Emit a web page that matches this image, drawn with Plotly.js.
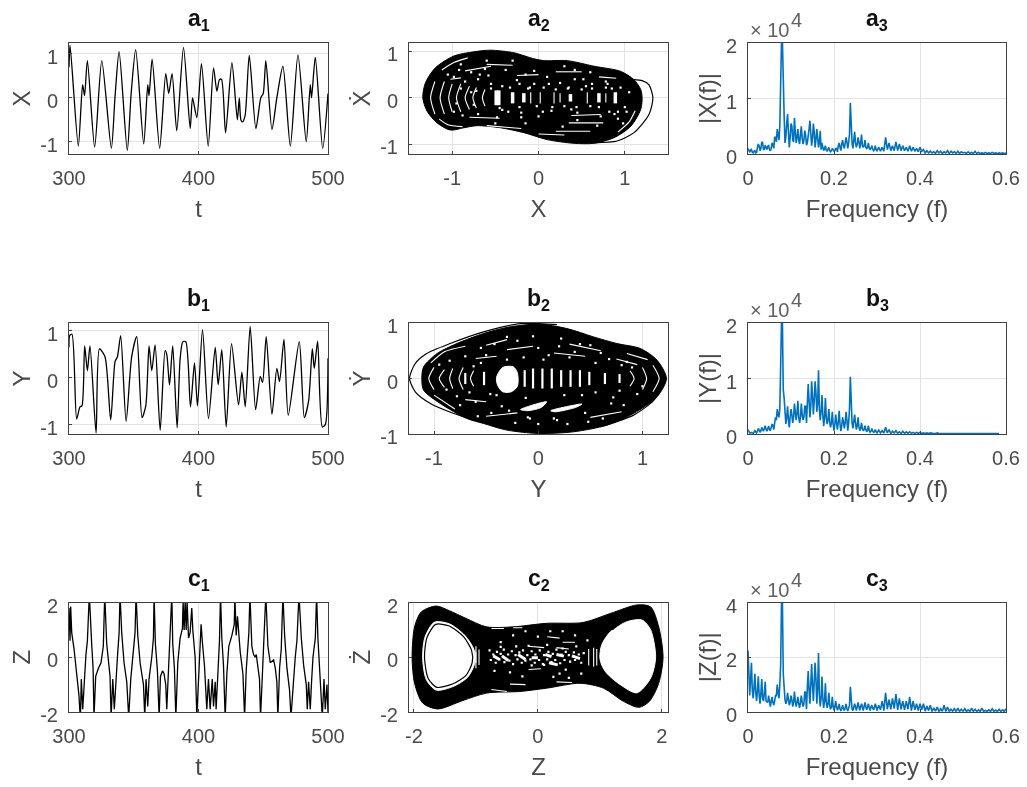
<!DOCTYPE html>
<html><head><meta charset="utf-8">
<script src="https://cdn.plot.ly/plotly-3.0.1.min.js"></script>
<style>html,body{margin:0;padding:0;background:#fff}#c{width:1027px;height:787px;filter:blur(.35px)}</style>
</head><body><div id="c"></div>
<script>
// ---------- time series ----------
const tX=[300,300.8,307.2,310.5,312,314.2,319.8,325.3,332.7,335.6,338.7,345,348,351.5,357.7,360.8,361.8,364.2,370,374.7,377,379.6,383.2,388.4,393.6,395.4,398.7,402.3,407.5,411.6,414.2,416.2,417.8,420.9,425.8,430,431.5,432.7,434,436,439.2,444.3,448.1,450,452,456.7,460.6,465.2,470.9,476.8,483.2,486.3,487.3,490.2,495.9,500];
const vX=[.7,1.2,-1.1,.3,.05,.85,-1.12,.85,-1.15,.05,1.05,-1.2,.1,1.1,-1.05,.3,.05,.88,-1.15,.55,.1,.55,-.75,1.15,-.7,0,-.45,.78,-1.1,.68,.15,.42,.42,-.8,.8,-.5,0,-.5,-.55,-.4,.97,-.7,0,.1,.85,-.72,.02,.72,-1.1,.98,-1,.3,0,.92,-1.15,.1];
const tY=[300,300.5,302.3,305.9,308.5,310,312.1,314.2,316.2,320.9,323.5,327.8,332.2,335.6,337.4,339.9,344.1,348.4,352.3,356.4,359.3,361.8,363.9,366.5,370.4,374.2,375.5,377.6,380.1,383.5,385.8,387.9,390.2,393.8,396.9,399.2,403.1,407.7,412.9,415.2,418,421.4,425.5,430.9,433.5,436.1,439.9,444.1,447.7,449.5,452.3,456.7,460.5,462.6,466,469.3,477.8,481.7,485,487.9,489.4,492,495.6,497.9,500];
const vY=[.65,.9,.93,-.88,-.62,-.6,.68,.15,.68,-1.18,.62,.45,-.9,.35,.45,.9,-.93,.45,.88,-.85,-.6,.68,.15,.7,-1.12,.58,.5,-.15,.68,-1.07,.4,.77,.77,-.62,.32,-.6,1.03,-.87,.65,-.15,.6,-1.05,.73,-.58,.12,-.62,1.1,-.68,.03,-.1,.88,-.78,.2,-.08,.82,-.8,.77,-.85,-.5,.62,.2,.78,-1.05,-1,.42];
const tZ=[300,300.8,301.3,302.1,303.9,306.4,307.7,308.8,309.5,310.6,311.6,313.1,314.2,315.7,317.5,318.6,319.3,320.6,322.7,324.7,326.5,327.6,329.1,331.7,332.5,333.8,335,336.1,337.4,338.7,339.4,340.7,342.5,344.6,345.4,346.1,347.7,349.7,351,351.8,353.1,354.9,357.5,358.5,359.5,360.8,361.8,363.9,365.2,365.7,366.7,368.3,369.6,370.6,372.2,373.4,374.7,375.5,376.3,378.1,379.4,380.1,381.4,382.5,384,385.8,387.6,388.1,388.9,389.7,390.5,391.2,392.3,393.5,394.8,395.6,397.4,398.7,400,401.3,402,403.1,404.6,406.4,407.7,409,410.6,411.6,412.9,413.6,414.9,416.2,417,418,419.3,420.6,421.9,423.4,425.8,427.6,428.1,429.1,430.1,431.2,432.2,434.3,435.6,436.8,438.1,438.9,439.7,441.2,442.5,443.8,444.6,445.6,447.1,447.9,449.2,450.8,452,453.6,455.4,458,459.3,460.5,461.3,462.6,463.9,465.2,466.5,468.3,470.3,471.4,472.9,474.7,476,477.6,479.4,481.2,483.2,484,485,486.3,487.3,488.4,490.2,491.2,492.2,493.5,494.8,495.6,496.9,497.9,499.2,500];
const vZ=[1.8,.6,1.85,.9,.3,-.7,-1.4,-2.3,-.8,-1.9,-1,.1,.6,2.3,.5,-.4,-2.2,-.7,-.4,-.2,.4,2.3,.5,-.7,-2.2,-.8,-1.9,-.8,0,.9,2.3,.9,-.2,-.9,-1.8,-2.2,-.8,.3,.9,2.3,.8,-.2,-1,-2.2,-.8,-1.8,-.8,0,.7,2.3,.5,-.5,-2.2,-.7,-.5,-.6,-1,-1.9,-1,.6,2.3,.5,-.4,-2.2,-.2,.7,1.05,2.05,1,2.05,1,2.05,.7,.9,1.8,1,0,-2.2,-.6,.6,1.2,.5,-.3,-1.9,-.8,-1.9,-.8,-1.8,-.9,-1.9,-.5,.6,2.3,.7,-.3,-2.2,-.6,.4,.8,1.2,2.2,.8,1.5,.8,.2,-.6,-2.2,-.5,.3,.9,2.3,.4,.1,0,.1,-.2,-.8,-2.2,-.6,.8,2.3,.4,-.2,-.1,-.4,-.9,-2.2,-.4,.3,2.3,.8,-.4,-1.2,-2.2,-1,0,.6,2.3,.7,-.3,-1,-1.9,-.9,-1.9,-.9,0,.7,2.3,.7,-.4,-1.3,-2.2,-.8,-1.9,-1,-2];

// ---------- phase portraits: envelope, outlying orbits, light gaps ----------
const a2BlobX=[-1.34,-1.31,-1.195,-.98,-.75,-.557,-.286,-.054,.062,.333,.644,.95,1.106,1.184,1.2,1.184,1.07,.874,.64,.41,.1,-.17,-.44,-.71,-.865,-1.02,-1.175,-1.29,-1.34];
const a2BlobY=[0,.32,.645,.9,.99,1.025,.97,.84,.8,.8,.68,.57,.39,.18,0,-.25,-.61,-.86,-.98,-.98,-.9,-.75,-.645,-.6,-.645,-.695,-.54,-.29,0];
const a2OrbitX=[1.106,1.2,1.28,1.325,1.28,1.106,.91,.64];
const a2OrbitY=[.39,.37,.28,0,-.36,-.75,-.93,-.97];
const a2WideX=[-.49,-.49,null,-.46,-.46,null,-.3,-.3,null,-.17,-.17,null,.7,.7,null,.37,.37,null,.89,.89];
const a2WideY=[-.16,.16,null,-.16,.16,null,-.12,.12,null,-.1,.1,null,-.1,.1,null,-.08,.08,null,-.12,.12];
const a2GapX=[-1.12,-.98,-.82,null,-1.2,-1.25,-1.2,null,-1.09,-1.14,-1.09,null,-1.0,-1.04,-1.0,null,-.9,-.95,-.9,null,-.8,-.85,-.8,null,-.72,-.76,-.72,null,-.62,-.65,-.62,null,-1.15,-1.05,-.88,null,-.09,-.09,null,.02,.02,null,.18,.18,null,.565,.565,null,.25,.25,null,.78,.78,null,1.12,1.05,.92,null,.75,.35,null,.6,.2,null,-.6,-.3,null,-.8,-.45,null,-.25,.0,null,.2,.5,null,.7,.9,null,-.6,-.2,null,.0,.3,null,-1.02,-.9,null,-.85,-.55,null,.38,.72];
const a2GapY=[.6,.76,.86,null,.35,0,-.35,null,.35,0,-.35,null,.3,0,-.3,null,.3,0,-.3,null,.25,0,-.25,null,.22,0,-.22,null,.18,0,-.18,null,-.46,-.58,-.62,null,.12,-.12,null,.12,-.12,null,.12,-.12,null,.12,-.12,null,.1,-.1,null,.1,-.1,null,-.28,-.52,-.74,null,-.54,-.54,null,-.72,-.72,null,.72,.7,null,-.42,-.44,null,.48,.5,null,.56,.56,null,.45,.42,null,-.6,-.66,null,-.78,-.8,null,.4,.43,null,.58,.68,null,-.38,-.36];
const a2SpeckX=[-1.05,-.92,-.85,-.78,-.7,-.62,-.55,-.38,-.22,-.05,.1,.25,.42,.6,.78,.95,-.98,-.88,-.7,-.5,-.35,-.15,.05,.28,.45,.68,.82,1,-.9,-.6,-.3,-.05,.3,.52,.78,-.75,-.45,-.2,.15,.38,.72,.92,-.72,-.55,-.1,.35,.55,.85,1.05,-.42,-.25,-.12,.06,.2,.34,.5,.62,.8,.92,-.42,-.22,-.02,.16,.3,.44,.6,.88,1.02,-.58,-.33,-.15,.12,.42,.62,-.68,-.48,-.2,.0,.45,.7,.98,-.98,-.9,-.78,-.95];
const a2SpeckY=[.5,.6,.35,.55,.4,.62,.3,.6,.3,.3,.45,.32,.6,.55,.35,.22,-.3,-.38,-.35,-.55,-.3,-.55,-.3,-.62,-.32,-.6,-.3,-.2,.72,.8,.8,.58,.68,.4,.22,-.15,-.22,-.32,-.28,-.25,-.4,-.45,.15,.2,.22,.22,.25,.2,.12,.25,.38,.2,.22,.18,.2,.18,.2,.3,-.3,-.26,-.2,-.18,-.2,-.18,-.2,-.18,-.35,-.3,.48,.22,.5,.3,.4,.3,.5,-.42,-.42,-.4,-.48,-.2,-.55,.45,.2,.12,-.12,-.42];

const b2BlobX=[-1.117,-1.1,-.97,-.78,-.525,-.3,0,.275,.53,.755,.98,1.14,1.23,1.14,.915,.66,.34,0,-.3,-.525,-.685,-.94,-1.1,-1.117];
const b2BlobY=[0,.21,.45,.63,.81,.92,.98,.9,.75,.63,.54,.33,0,-.33,-.63,-.84,-.96,-.99,-.93,-.81,-.72,-.45,-.21,0];
const b2OrbitX=[.18,-.17,-.525,-.845,-1.07,-1.18,-1.235,-1.18,-1.035,-.81,-.56,null,1.23,1.11,.915,.595];
const b2OrbitY=[.97,.99,.84,.63,.45,.27,0,-.24,-.45,-.63,-.78,null,0,-.39,-.66,-.87];
const b2HoleX=[-.4,-.34,-.24,-.2,-.2,-.26,-.34,-.39,-.4,null,-.17,.08,.03,-.1,-.17,null,.12,.42,.36,.16,.12];
const b2HoleY=[.02,.2,.21,.1,-.14,-.24,-.24,-.12,.02,null,-.56,-.42,-.52,-.58,-.56,null,-.58,-.46,-.52,-.6,-.58];
const b2WideX=[-.13,-.13,null,-.05,-.05,null,.04,.04,null,.13,.13,null,.22,.22,null,.31,.31,null,.4,.4,null,.49,.49,null,-.52,-.52,null,-.7,-.7,null,.64,.64,null,.78,.78];
const b2WideY=[-.15,.15,null,-.18,.18,null,-.18,.18,null,-.18,.18,null,-.15,.15,null,-.15,.15,null,-.15,.15,null,-.12,.12,null,-.12,.12,null,-.1,.1,null,-.1,.1,null,-.08,.08];
const b2GapX=[-1.0,-1.05,-1.0,null,-.9,-.95,-.9,null,-.82,-.85,-.82,null,-.72,-.76,-.72,null,-.62,-.65,-.62,null,.88,.92,.88,null,1.0,1.04,1.0,null,1.1,1.16,1.1,null,.85,1.05,null,-1.03,-.9,-.7,null,-1.0,-.8,null,-.5,-.3,null,.5,.8,null,.3,.6,null,-.6,-.4,null,.75,.95,null,-.7,-.5,null,-.3,-.05,null,.15,.45,null,-.5,-.2];
const b2GapY=[-.2,0,.2,null,.16,0,-.16,null,.18,0,-.18,null,.2,0,-.2,null,.14,0,-.14,null,.14,0,-.14,null,.2,0,-.2,null,.24,0,-.24,null,.45,.34,null,.28,.48,.58,null,-.3,-.55,null,.6,.7,null,-.7,-.6,null,.62,.5,null,.36,.4,null,.35,.25,null,-.38,-.42,null,.52,.58,null,.46,.4,null,-.68,-.62];
const b2SpeckX=[-.85,-.7,-.55,-.42,-.2,0,.2,.4,.6,.85,-.78,-.6,-.35,-.1,.15,.45,.7,.95,-.55,-.3,.05,.3,.55,.8,-.88,-.66,-.4,-.12,.25,.55,.78,-.45,-.22,.0,.28,.62,-.95,-.62,-.5,-.14,.1,.35,.68,.9,-.75,-.46,-.28,.42,.72,1.0,-.3,-.05,.22,.5,-.58,-.08,.18,.48,.82];
const b2SpeckY=[.32,.4,.55,.62,.68,.55,.58,.62,.46,.3,-.32,-.42,-.5,-.7,-.72,-.62,-.45,-.28,.28,.34,.34,.38,.28,.24,-.2,-.25,-.3,-.35,-.3,-.25,-.22,-.62,-.8,-.82,-.82,-.72,.25,.22,.42,.38,.42,.48,.35,.2,-.48,-.28,-.58,-.3,-.34,-.14,.75,.76,.72,.6,-.68,-.72,-.75,-.78,-.48];

const c2BlobX=[-2.03,-1.99,-1.88,-1.64,-1.43,-1.16,-.83,-.4,.14,.73,1.17,1.6,1.82,1.95,2.02,1.95,1.8,1.63,1.38,1.06,.68,.14,-.29,-.83,-1.21,-1.62,-1.86,-1.99,-2.03];
const c2BlobY=[0,1.11,1.66,1.87,1.7,1.42,1.11,1.11,1.24,1.27,1.6,1.91,1.84,1.11,0,-.95,-1.61,-1.83,-1.61,-1.13,-.95,-1.13,-1.25,-1.31,-1.58,-1.89,-1.67,-.95,0];
const c2LeftHoleX=[-1.86,-1.82,-1.67,-1.43,-1.18,-1.03,-1.02,-1.13,-1.35,-1.64,-1.8,-1.86];
const c2LeftHoleY=[0,.75,1.28,1.22,.8,.27,-.22,-.72,-1.05,-1.2,-.82,0];
const c2LeftRingX=[-1.83,-1.79,-1.65,-1.43,-1.2,-1.07,-1.06,-1.16,-1.37,-1.63,-1.77,-1.83];
const c2LeftRingY=[0,.72,1.2,1.14,.75,.25,-.2,-.66,-.97,-1.1,-.78,0];
const c2RightHoleX=[1.0,1.03,1.17,1.44,1.68,1.82,1.9,1.82,1.6,1.33,1.11,1.03,1.0];
const c2RightHoleY=[0,.45,.93,1.3,1.36,1,0,-.76,-1.3,-1,-.58,-.28,0];
const c2RightRingX=[1.2,1.46,1.68];
const c2RightRingY=[1.0,1.42,1.42];
const c2GapX=[-.75,-.55,null,-.4,-.25,null,.15,.35,null,.4,.6,null,.3,.55,null,-.45,-.2,null,-.75,-.5,null,.9,.9,null,.82,.82,null,.95,.95,null,-1.0,-1.0,null,-.95,-.95,null,-.15,.1,null,.3,.5,null,-.15,.05,null,-1.0,-1.0];
const c2GapY=[1.05,1.05,null,1.08,1.08,null,.75,.7,null,.55,.55,null,-.9,-.92,null,-.98,-1.0,null,-1.18,-1.25,null,.35,-.35,null,.3,-.3,null,.3,-.3,null,.4,-.4,null,.28,-.28,null,.4,.35,null,.35,.3,null,-.45,-.42,null,.2,-.2];
const c2PatchX=[-.72,-.62,null,-.58,-.48,null,-.32,-.2,null,-.1,.0,null,.12,.22,null,.3,.42,null,.55,.68,null,.18,.32];
const c2PatchY=[.05,-.08,null,.05,-.12,null,.1,-.08,null,-.02,-.02,null,.1,.02,null,.1,.04,null,.05,-.05,null,-.2,-.28];
const c2SpeckX=[-.78,-.72,-.66,-.6,-.55,-.48,-.42,-.36,-.3,-.24,-.17,-.1,-.04,.03,.1,.17,.24,.3,.38,.45,.5,.58,.66,.74,-.76,-.68,-.62,-.54,-.46,-.4,-.33,-.26,-.2,-.12,-.05,.02,.08,.15,.22,.28,.36,.43,.52,.6,.7,-.6,-.4,-.2,0,.2,.4,.6,.8,-.7,-.45,-.1,.1,.35,.5,.7,-.6,-.35,-.15,.15,.4,.62,-.25,.25,.45];
const c2SpeckY=[.25,.1,.2,.12,.28,.1,.22,.08,.18,.25,.08,.22,.1,.25,.08,.2,.12,.28,.1,.2,.08,.18,.1,.15,-.1,-.2,-.08,-.18,-.12,-.25,-.08,-.2,-.12,-.08,-.2,-.1,-.25,-.08,-.18,-.1,-.22,-.1,-.16,-.1,-.2,.55,.8,.95,.75,.95,.95,.8,.62,-.5,-.55,-.3,-.28,-.6,-.75,-.6,.38,.4,.42,.45,.32,.4,-.7,-.72,-.45];

// ---------- spectra: frequency bins and amplitudes in units of 10^4 ----------
const freq=[0,.004,.008,.012,.016,.02,.024,.028,.032,.036,.04,.044,.048,.052,.056,.06,.064,.068,.072,.076,.08,.084,.088,.092,.096,.1,.104,.108,.112,.116,.12,.124,.128,.132,.136,.14,.144,.148,.152,.156,.16,.164,.168,.172,.176,.18,.184,.188,.192,.196,.2,.204,.208,.212,.216,.22,.224,.228,.232,.236,.24,.244,.248,.252,.256,.26,.264,.268,.272,.276,.28,.284,.288,.292,.296,.3,.304,.308,.312,.316,.32,.324,.328,.332,.336,.34,.344,.348,.352,.356,.36,.364,.368,.372,.376,.38,.384,.388,.392,.396,.4,.404,.408,.412,.416,.42,.424,.428,.432,.436,.44,.444,.448,.452,.456,.46,.464,.468,.472,.476,.48,.484,.488,.492,.496,.5,.504,.508,.512,.516,.52,.524,.528,.532,.536,.54,.544,.548,.552,.556,.56,.564,.568,.572,.576,.58,.584,.588,.592,.596,.6];
const ampX=[.1,.03,.08,.02,.06,.03,.18,.06,.22,.08,.16,.08,.15,.06,.2,.1,.3,.45,.25,1.3,2.05,.7,.3,.72,.12,.55,.25,.65,.2,.45,.18,.5,.18,.42,.16,.3,.6,.15,.55,.12,.45,.12,.42,.2,.06,.15,.05,.12,.04,.1,.05,.1,.04,.2,.06,.25,.1,.3,.1,.35,.3,.1,.4,.12,.3,.1,.35,.12,.25,.1,.2,.08,.15,.06,.15,.06,.12,.05,.12,.05,.3,.08,.2,.06,.15,.06,.22,.06,.18,.06,.15,.06,.12,.05,.15,.05,.12,.05,.1,.04,.12,.05,.08,.02,.06,.02,.05,.02,.04,.01,.06,.02,.05,.01,.04,.02,.06,.01,.05,.02,.04,.01,.05,.01,.04,.02,.03,.01,.04,.01,.03,.01,.05,.01,.03,.01,.02,.01,.03,.01,.02,.01,.03,.01,.02,.01,.02,.01,.02,.01,.02];
const ampY=[.08,.02,.03,.01,.06,.02,.1,.03,.12,.05,.15,.05,.14,.06,.18,.08,.3,.45,.3,1.15,2.05,.65,.18,.5,.12,.45,.2,.55,.25,.6,.2,.55,.25,.5,.2,.9,.3,.95,.35,.95,.4,1.15,.25,.7,.14,.65,.18,.45,.12,.4,.06,.35,.08,.42,.05,.3,.1,.4,.06,.45,.3,.1,.35,.08,.3,.06,.2,.06,.15,.04,.15,.03,.1,.03,.08,.02,.07,.02,.06,.02,.12,.02,.08,.01,.05,.02,.06,.01,.04,.01,.05,.01,.04,.01,.04,.01,.03,.01,.03,.01,.03,.01,.02,.01,.02,.01,.02,.01,.01,.01,.02,.01,.01,.01,.01,.01,.01,.01,.01,.01,.01,.01,.01,.01,.01,.01,.01,.01,.01,.01,.01,.01,.01,.01,.01,.01,.01,.01,.01,.01,.01,.01,.01,.01,.01,.01,.01];
const ampZ=[2.25,.6,1.8,.5,1.4,.4,1.3,.3,1.2,.4,1.1,.35,.6,.2,.55,.25,.6,1.0,.5,1.75,4.1,.7,.3,.7,.25,.6,.2,.75,.2,.55,.15,.6,.2,.75,.1,1.5,.3,1.75,.4,1.8,.3,2.15,.2,1.3,.15,1.05,.15,.7,.1,.55,.06,.4,.06,.3,.04,.25,.05,.3,.04,.25,.25,.05,.3,.05,.35,.06,.3,.05,.35,.08,.3,.05,.25,.07,.3,.05,.25,.08,.4,.05,.7,.1,.45,.1,.5,.12,.65,.08,.5,.1,.4,.08,.4,.1,.55,.05,.4,.08,.3,.05,.3,.08,.3,.03,.22,.05,.25,.02,.15,.03,.18,.02,.12,.03,.25,.02,.18,.02,.1,.03,.12,.02,.14,.02,.1,.03,.12,.02,.08,.02,.14,.02,.1,.02,.08,.02,.14,.02,.06,.02,.08,.02,.12,.02,.07,.02,.1,.02,.08,.02,.12];
const freqMid=[.002,.006,.01,.014,.018,.022,.026,.03,.034,.038,.042,.046,.05,.054,.058,.062,.066,.07,.074,.078,.082,.086,.09,.094,.098,.102,.106,.11,.114,.118,.122,.126,.13,.134,.138,.142,.146,.15,.154,.158,.162,.166,.17,.174,.178,.182,.186,.19,.194,.198,.202,.206,.21,.214,.218,.222,.226,.23,.234,.238,.242,.246,.25,.254,.258,.262,.266,.27,.274,.278,.282,.286,.29,.294,.298];
const ampXMid=[.05,.07,.03,.05,.02,.12,.14,.1,.2,.08,.12,.14,.08,.1,.17,.3,.22,.35,.5,2.05,.9,.2,.55,.4,.3,.5,.22,.4,.3,.25,.35,.28,.25,.35,.2,.45,.3,.28,.4,.25,.3,.2,.08,.12,.1,.07,.09,.06,.06,.08,.06,.1,.15,.12,.18,.15,.2,.22,.2,.92,.2,.25,.2,.18,.22,.2,.15,.15,.12,.12,.1,.1,.09,.08,.08];
const ampYMid=[.04,.02,.02,.03,.04,.05,.07,.06,.08,.1,.08,.1,.08,.12,.15,.2,.25,.35,.45,2.05,.8,.3,.3,.25,.3,.35,.3,.4,.38,.3,.3,.35,.3,.5,.55,.6,.5,.7,.6,.75,.55,.45,.4,.35,.3,.3,.25,.22,.2,.18,.18,.2,.22,.18,.15,.22,.2,.25,.2,1.03,.2,.2,.2,.15,.12,.1,.1,.08,.08,.07,.06,.05,.05,.04,.04];
const ampZMid=[1.1,1.2,.8,.9,.7,.8,.6,.7,.5,.7,.4,.35,.3,.4,.35,.4,.6,.7,1.0,4.1,1.4,.45,.4,.4,.35,.45,.35,.4,.35,.3,.35,.35,.3,.7,.9,.8,1.0,1.0,1.1,1.2,.9,.6,.5,.5,.4,.35,.3,.25,.2,.2,.18,.18,.15,.12,.14,.12,.15,.12,.14,.92,.1,.18,.18,.2,.18,.2,.18,.2,.2,.18,.15,.18,.15,.16,.2];

// ---------- labels ----------
const rowLetters=['a','b','c'];
const dotNames=['Ẋ','Ẏ','Ż'];
const specLabels=['|X(f)|','|Y(f)|','|Z(f)|'];
const tsTicks=[300,400,500];
const specXTicks=[0,.2,.4,.6];

// ---------- figure ----------
const W=1027,H=787, BLACK='#000', BLUE='#0072BD', INK='#404040', GRID='#e2e2e2';
const colPx=[[69,328],[409,668],[748,1006]];
const rowPx=[[43,154],[323,434],[602.5,712]];
const FONT='"Liberation Sans",Arial,sans-serif';
const layout={width:W,height:H,margin:{l:0,r:0,t:0,b:0},showlegend:false,paper_bgcolor:'#fff',plot_bgcolor:'#fff',
  font:{family:FONT,color:INK},annotations:[]};
const data=[];
function axis(dom,range,ticks,title,anchor,isY){
  return {domain:dom,range:range,tickmode:'array',tickvals:ticks,ticktext:ticks.map(String),anchor:anchor,
    showline:true,mirror:true,linecolor:INK,linewidth:1,ticks:'inside',ticklen:3,tickcolor:INK,tickwidth:1,
    showgrid:true,gridcolor:GRID,gridwidth:1,zeroline:false,tickfont:{family:FONT,size:20,color:'#4a4a4a'},
    ticklabelstandoff:6,ticklabelshift:isY?3:0,automargin:false,
    title:{text:title,font:{family:FONT,size:24,color:'#4a4a4a'},standoff:isY?2:12}};
}
function add(r,c,tr){tr.forEach(t=>{t.xaxis='x'+(r*3+c+1);t.yaxis='y'+(r*3+c+1);t.hoverinfo='skip';data.push(t);});}
function panel(r,c,xr,yr,xt,yt,xl,yl){
  const n=r*3+c+1;
  layout['xaxis'+n]=axis([colPx[c][0]/W,colPx[c][1]/W],xr,xt,xl,'y'+n,false);
  layout['yaxis'+n]=axis([1-rowPx[r][1]/H,1-rowPx[r][0]/H],yr,yt,yl,'x'+n,true);
  layout.annotations.push({xref:'paper',yref:'paper',x:(colPx[c][0]+colPx[c][1])/2/W,y:1-(rowPx[r][0]-7)/H,xanchor:'center',yanchor:'bottom',showarrow:false,
    text:'<b>'+rowLetters[r]+'<sub>'+(c+1)+'</sub></b>',font:{family:FONT,size:23,color:'#111'}});
}
const line=(x,y,w,col,shape)=>({x,y,mode:'lines',line:{color:col||BLACK,width:w||1,shape:shape||'linear',smoothing:.7},connectgaps:false});
const blob=(x,y,col)=>({x,y,mode:'lines',line:{color:col,width:1,shape:'spline',smoothing:.8},fill:'toself',fillcolor:col});
const speck=(x,y,s)=>({x,y,mode:'markers',marker:{color:'#fff',size:s,symbol:'square'}});
function merged(fa,aa,fb,ab){
  const pts=fa.map((f,i)=>[f,aa[i]]).concat(fb.map((f,i)=>[f,ab[i]])).sort((p,q)=>p[0]-q[0]);
  return {x:pts.map(p=>p[0]),y:pts.map(p=>p[1])};
}

// time series
panel(0,0,[300,500],[-1.28,1.25],tsTicks,[-1,0,1],'t','X');
add(0,0,[line(tX,vX,1.3,BLACK,'spline')]);
panel(1,0,[300,500],[-1.2,1.17],tsTicks,[-1,0,1],'t','Y');
add(1,0,[line(tY,vY,1.3,BLACK,'spline')]);
panel(2,0,[300,500],[-2,2],tsTicks,[-2,0,2],'t','Z');
add(2,0,[line(tZ,vZ,1.3,BLACK)]);

// phase portraits
panel(0,1,[-1.5,1.5],[-1.21,1.18],[-1,0,1],[-1,0,1],'X',dotNames[0]);
add(0,1,[blob(a2BlobX,a2BlobY,BLACK),line(a2OrbitX,a2OrbitY,1.2,BLACK,'spline'),line(a2WideX,a2WideY,3.5,'#fff'),line(a2GapX,a2GapY,1.1,'#fff','spline'),speck(a2SpeckX,a2SpeckY,2.2)]);
panel(1,1,[-1.24,1.245],[-1,1],[-1,0,1],[-1,0,1],'Y',dotNames[1]);
add(1,1,[blob(b2BlobX,b2BlobY,BLACK),line(b2OrbitX,b2OrbitY,1.2,BLACK,'spline'),blob(b2HoleX,b2HoleY,'#fff'),line(b2WideX,b2WideY,2.2,'#fff'),line(b2GapX,b2GapY,1.1,'#fff','spline'),speck(b2SpeckX,b2SpeckY,2.2)]);
panel(2,1,[-2.08,2.1],[-2,2],[-2,0,2],[-2,0,2],'Z',dotNames[2]);
add(2,1,[blob(c2BlobX,c2BlobY,BLACK),blob(c2LeftHoleX,c2LeftHoleY,'#fff'),line(c2LeftRingX,c2LeftRingY,1.2,BLACK,'spline'),blob(c2RightHoleX,c2RightHoleY,'#fff'),line(c2RightRingX,c2RightRingY,1.2,BLACK,'spline'),line(c2GapX,c2GapY,1.1,'#fff'),line(c2PatchX,c2PatchY,3,'#fff'),speck(c2SpeckX,c2SpeckY,2.2)]);

// spectra
[[ampX,ampXMid,[0,2],[0,1,2]],[ampY,ampYMid,[0,2],[0,1,2]],[ampZ,ampZMid,[0,4],[0,2,4]]].forEach((s,r)=>{
  panel(r,2,[0,.6],s[2],specXTicks,s[3],'Frequency (f)',specLabels[r]);
  const m=merged(freq,s[0],freqMid,s[1]);
  add(r,2,[line(m.x,m.y,1.6,BLUE)]);
  layout.annotations.push({xref:'paper',yref:'paper',x:749/W,y:1-(rowPx[r][0]-1)/H,xanchor:'left',yanchor:'bottom',showarrow:false,borderpad:0,
    text:'× 10',font:{family:FONT,size:20,color:'#606060'}});
  layout.annotations.push({xref:'paper',yref:'paper',x:790/W,y:1-(rowPx[r][0]-11)/H,xanchor:'left',yanchor:'bottom',showarrow:false,borderpad:0,
    text:'4',font:{family:FONT,size:20,color:'#606060'}});
});
Plotly.newPlot('c',data,layout,{displayModeBar:false,staticPlot:true});
</script></body></html>
